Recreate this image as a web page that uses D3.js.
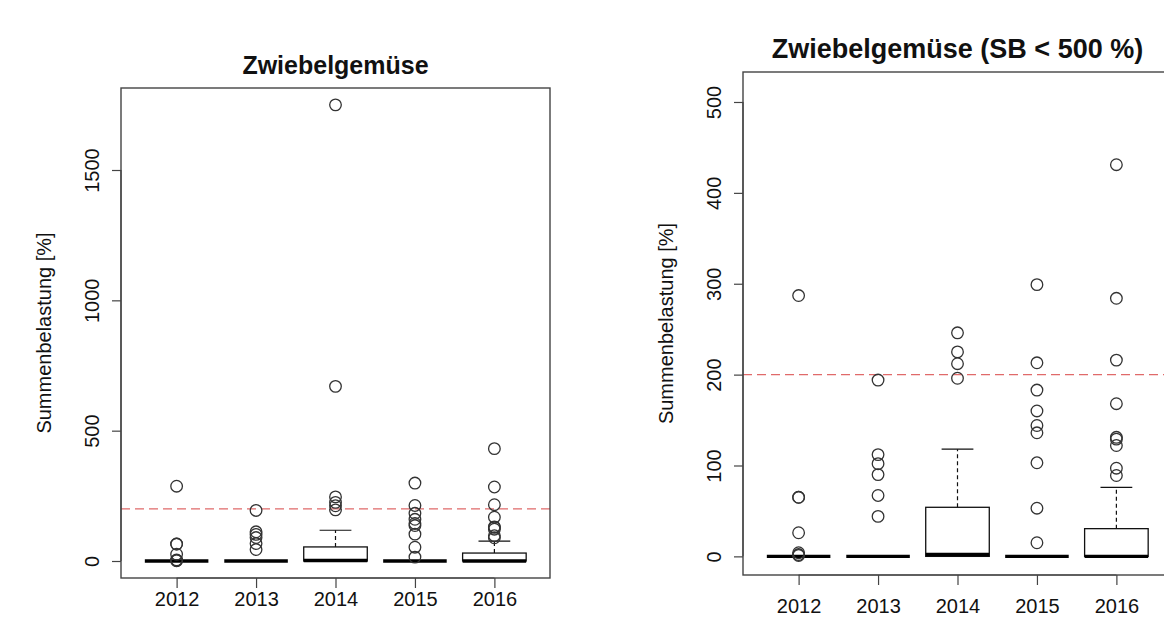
<!DOCTYPE html>
<html><head><meta charset="utf-8">
<script src="https://cdn.jsdelivr.net/npm/d3@7"></script>
<style>body{margin:0;background:#fff}svg{display:block;font-family:"Liberation Sans",Arial,sans-serif}</style>
</head><body><svg id="c" width="1164" height="633"></svg>
<script>
const years = ["2012","2013","2014","2015","2016"];
const q1 = [0, 0, 0, 0, 0];
const medians = [0, 0, 2, 0, 0];
const q3 = [0, 0, 54, 0, 30.5];
const whiskLow = [0, 0, 0, 0, 0];
const whiskHigh = [0, 0, 118, 0, 76];
const outliers = [
  [287, 65, 65, 26, 4, 2, 1],
  [194, 112, 102, 90, 67, 44],
  [1750, 670, 246, 225, 212, 196],
  [299, 213, 183, 160, 144, 136, 103, 53, 15],
  [431, 284, 216, 168, 131, 129, 122, 97, 89]
];
const threshold = 200;
const leftTicks = [0, 500, 1000, 1500];
const rightTicks = [0, 100, 200, 300, 400, 500];
const titles = ["Zwiebelgemüse", "Zwiebelgemüse (SB < 500 %)"];
const yTitle = "Summenbelastung [%]";
const rightLimit = 500;

const svg = d3.select("#c");

function panel(opts){
  const g = svg.append("g");
  const x = d3.scaleLinear().domain([0.3, 5.7]).range([opts.x0, opts.x1]);
  const y = d3.scaleLinear().domain(opts.ydom).range([opts.y1, opts.y0]);
  const bw = (x(1.4) - x(1));
  const cap = (x(1.2) - x(1));

  g.append("line").attr("x1", opts.x0).attr("x2", opts.x1)
    .attr("y1", y(threshold)).attr("y2", y(threshold))
    .attr("stroke", "#e06a6a").attr("stroke-width", 1.4).attr("stroke-dasharray", "9,5");

  years.forEach((yr, i) => {
    const cx = x(i + 1);
    if (whiskHigh[i] > q3[i]) {
      g.append("line").attr("x1", cx).attr("x2", cx).attr("y1", y(q3[i])).attr("y2", y(whiskHigh[i]))
        .attr("stroke", "#111").attr("stroke-width", 1.2).attr("stroke-dasharray", "4,3");
      g.append("line").attr("x1", cx - cap).attr("x2", cx + cap).attr("y1", y(whiskHigh[i])).attr("y2", y(whiskHigh[i]))
        .attr("stroke", "#111").attr("stroke-width", 1.2);
    }
    if (whiskLow[i] < q1[i]) {
      g.append("line").attr("x1", cx).attr("x2", cx).attr("y1", y(q1[i])).attr("y2", y(whiskLow[i]))
        .attr("stroke", "#111").attr("stroke-dasharray", "4,3");
    }
    g.append("rect").attr("x", cx - bw).attr("width", bw * 2)
      .attr("y", y(q3[i])).attr("height", Math.max(0, y(q1[i]) - y(q3[i])))
      .attr("fill", "#fff").attr("stroke", "#111").attr("stroke-width", 1.3);
    g.append("line").attr("x1", cx - bw).attr("x2", cx + bw).attr("y1", y(medians[i])).attr("y2", y(medians[i]))
      .attr("stroke", "#000").attr("stroke-width", 3.4);
    outliers[i].filter(v => v <= opts.maxVal).forEach(v => {
      g.append("circle").attr("cx", cx).attr("cy", y(v)).attr("r", 5.8)
        .attr("fill", "none").attr("stroke", "#333").attr("stroke-width", 1.3);
    });
  });

  g.append("rect").attr("x", opts.x0).attr("y", opts.y0).attr("width", opts.x1 - opts.x0).attr("height", opts.y1 - opts.y0)
    .attr("fill", "none").attr("stroke", "#444").attr("stroke-width", 1.4);

  const ya = g.append("g").attr("transform", `translate(${opts.x0},0)`)
    .call(d3.axisLeft(y).tickValues(opts.ticks).tickSize(9).tickFormat(d3.format("d")));
  ya.select(".domain").attr("stroke", "#444").attr("stroke-width", 1.2).attr("d", `M0,${y(opts.ticks[0])}V${y(opts.ticks[opts.ticks.length-1])}`);
  ya.selectAll(".tick line").attr("stroke", "#444").attr("stroke-width", 1.2);
  ya.selectAll(".tick text").attr("font-size", 20).attr("fill", "#111")
    .attr("x", 0).attr("dy", null)
    .attr("text-anchor", "middle")
    .attr("transform", "translate(-22,0) rotate(-90)")
    .attr("y", 0);

  const xa = g.append("g").attr("transform", `translate(0,${opts.y1})`)
    .call(d3.axisBottom(x).tickValues([1,2,3,4,5]).tickSize(10).tickFormat((d) => years[d - 1]));
  xa.select(".domain").attr("stroke", "#444").attr("stroke-width", 1.2).attr("d", `M${x(1)},0H${x(5)}`);
  xa.selectAll(".tick line").attr("stroke", "#444").attr("stroke-width", 1.2);
  xa.selectAll(".tick text").attr("font-size", 20).attr("fill", "#111").attr("y", opts.xlabOff).attr("dy", "0.71em");

  g.append("text").attr("x", (opts.x0 + opts.x1) / 2).attr("y", opts.y0 - 14)
    .attr("text-anchor", "middle").attr("font-weight", "bold").attr("font-size", opts.titleSize).attr("fill", "#111")
    .text(opts.title);
  g.append("text").attr("transform", `translate(${opts.x0 - 70},${(opts.y0 + opts.y1) / 2}) rotate(-90)`)
    .attr("text-anchor", "middle").attr("font-size", 20).attr("fill", "#111").text(yTitle);
}

panel({x0: 121, x1: 550, y0: 88, y1: 578, ydom: [-65.2, 1814.6], ticks: leftTicks, title: titles[0], maxVal: 1e9, titleSize: 25, xlabOff: 14});
panel({x0: 743, x1: 1172, y0: 72, y1: 575, ydom: [-20.5, 533], ticks: rightTicks, title: titles[1], maxVal: rightLimit, titleSize: 27, xlabOff: 24});
</script></body></html>
